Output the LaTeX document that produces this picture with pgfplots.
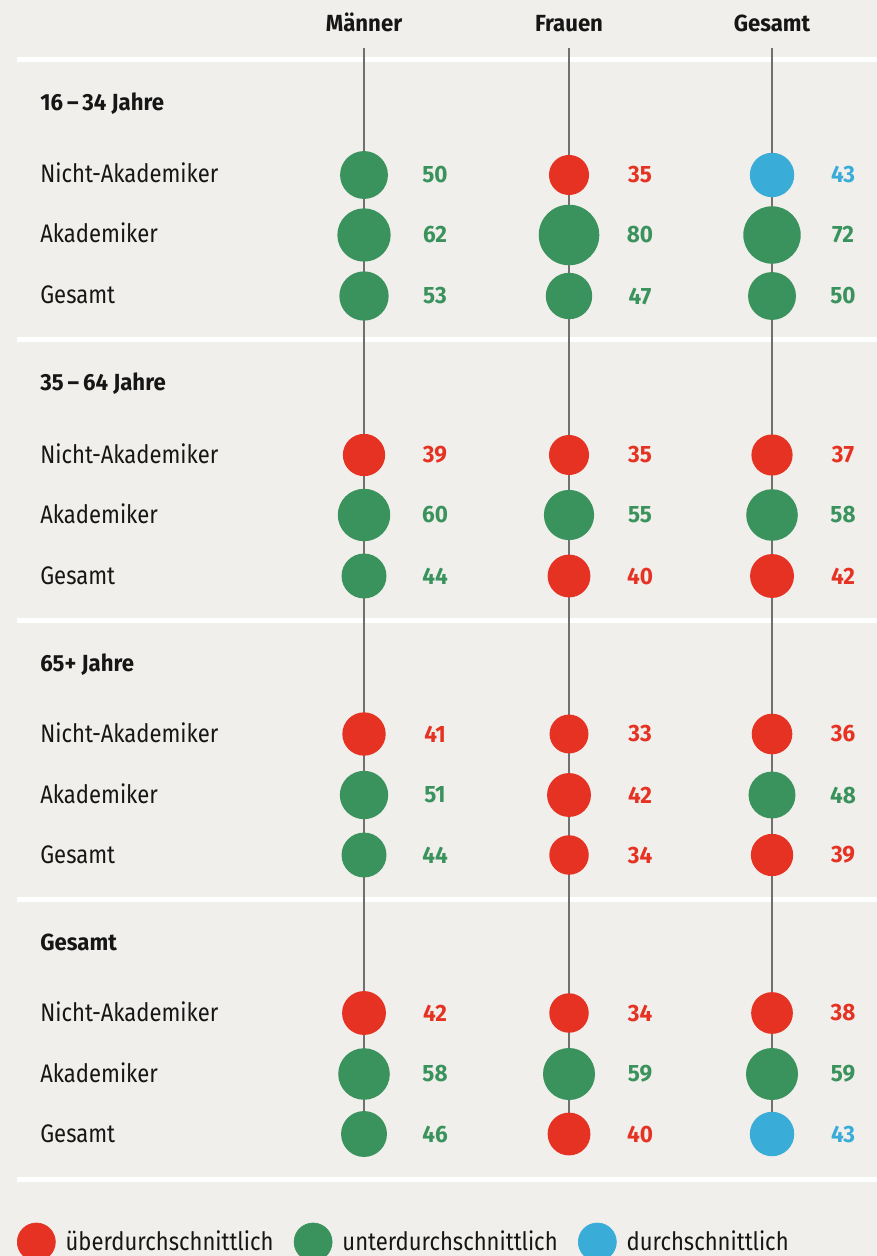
\documentclass[border=0pt]{standalone}
\usepackage{pgfplots}
\pgfplotsset{compat=1.18}
\usepackage{pgfplotstable}
\usepackage{fontspec}
\setmainfont{Fira Sans}
\newfontfamily\lblfam{Fira Sans}[FakeStretch=0.87]
\newfontfamily\hdfam{Fira Sans}[FakeStretch=0.95]
\newcommand\lblfont{\lblfam\fontsize{15.2pt}{18pt}\selectfont}
\newcommand\hdfont{\hdfam\bfseries\fontsize{14pt}{17pt}\selectfont}
\newcommand\valfont{\hdfam\bfseries\fontsize{14.2pt}{17pt}\selectfont}
\newcommand\legfont{\lblfam\fontsize{15.2pt}{18pt}\selectfont}
\definecolor{bg}{RGB}{240,239,235}
\definecolor{cred}{RGB}{230,50,35}
\definecolor{cgreen}{RGB}{58,146,92}
\definecolor{cblue}{RGB}{58,172,216}
\definecolor{vline}{RGB}{112,112,112}
\definecolor{txt}{RGB}{22,22,22}

% x: column centre (px), y: row centre (px), v: value
\pgfplotstableread{
x y v
569 175 35
364 455 39
569 455 35
772 455 37
569 576 40
772 576 42
364 734 41
569 734 33
772 734 36
569 795 42
569 855 34
772 855 39
364 1013 42
569 1013 34
772 1013 38
569 1134 40
}\redtab
\pgfplotstableread{
x y v
364 175 50
364 235 62
569 235 80
772 235 72
364 296 53
569 296 47
772 296 50
364 515 60
569 515 55
772 515 58
364 576 44
364 795 51
772 795 48
364 855 44
364 1074 58
569 1074 59
772 1074 59
364 1134 46
}\greentab
\pgfplotstableread{
x y v
772 175 43
772 1134 43
}\bluetab

\pgfplotsset{
  % bubble area proportional to value: diameter = 4.062*sqrt(v) pt
  bubble/.style={
    only marks, mark=none,
    point meta=explicit,
    visualization depends on={\thisrow{v} \as \val},
    nodes near coords={\relax},
    every node near coord/.append style={circle, fill=#1, draw=none, inner sep=0pt, outer sep=0pt,
      minimum size={4.062*sqrt(\val)}, anchor=center},
    legend image code/.code={\fill[#1] (0pt,0pt) circle (11.4pt);},
  },
  vallabel/.style={
    only marks, mark=none, forget plot,
    point meta=explicit,
    nodes near coords,
    every node near coord/.append style={anchor=center, xshift=42.6pt, font=\valfont, inner sep=0pt, text=#1},
  },
}

\begin{document}
\begin{tikzpicture}
\begin{axis}[
  scale only axis, width=526.2pt, height=753.6pt,
  xmin=0, xmax=877, ymin=0, ymax=1256, y dir=reverse,
  hide axis, clip=false,
  /pgf/number format/assume math mode=true,
  legend columns=3,
  legend style={at={(axis cs:17,1242)}, anchor=west, draw=none, fill=none,
    inner sep=0pt, outer sep=0pt, font=\legfont, text=txt,
    nodes={inner sep=0pt},
    /tikz/every odd column/.append style={column sep=6pt},
    /tikz/every even column/.append style={column sep=12.2pt}},
  legend cell align=left,
]
\fill[bg] (axis cs:0,0) rectangle (axis cs:877,1256);
\foreach \yy in {60,340,620,899,1179}{
  \edef\tmp{\noexpand\draw[white, line width=3pt] (axis cs:17,\yy) -- (axis cs:877,\yy);}\tmp
}
\foreach \xx in {364,569,772}{
  \edef\tmp{\noexpand\draw[vline, line width=1.1pt] (axis cs:\xx,48) -- (axis cs:\xx,1134);}\tmp
}
\addplot[bubble=cred] table[x=x, y=y, meta=v] \redtab;
\addlegendentry{überdurchschnittlich}
\addplot[bubble=cgreen] table[x=x, y=y, meta=v] \greentab;
\addlegendentry{unterdurchschnittlich}
\addplot[bubble=cblue] table[x=x, y=y, meta=v] \bluetab;
\addlegendentry{durchschnittlich}
\addplot[vallabel=cred] table[x=x, y=y, meta=v] \redtab;
\addplot[vallabel=cgreen] table[x=x, y=y, meta=v] \greentab;
\addplot[vallabel=cblue] table[x=x, y=y, meta=v] \bluetab;

% column headers
\node[anchor=base, font=\hdfont, text=txt, inner sep=0pt] at (axis cs:364,32) {Männer};
\node[anchor=base, font=\hdfont, text=txt, inner sep=0pt] at (axis cs:569,32) {Frauen};
\node[anchor=base, font=\hdfont, text=txt, inner sep=0pt] at (axis cs:772,32) {Gesamt};
% group headers
\node[anchor=base west, font=\hdfont, text=txt, inner sep=0pt] at (axis cs:40,111) {16\,–\,34 Jahre};
\node[anchor=base west, font=\hdfont, text=txt, inner sep=0pt] at (axis cs:40,391) {35\,–\,64 Jahre};
\node[anchor=base west, font=\hdfont, text=txt, inner sep=0pt] at (axis cs:40,671) {65+ Jahre};
\node[anchor=base west, font=\hdfont, text=txt, inner sep=0pt] at (axis cs:40,950) {Gesamt};
% row labels
\foreach \yy in {175,455,734,1013}{
  \edef\tmp{\noexpand\node[anchor=base west, font=\noexpand\lblfont, text=txt, inner sep=0pt] at (axis cs:40,\the\numexpr\yy+8\relax) {Nicht-Akademiker};}\tmp
}
\foreach \yy in {235,515,795,1074}{
  \edef\tmp{\noexpand\node[anchor=base west, font=\noexpand\lblfont, text=txt, inner sep=0pt] at (axis cs:40,\the\numexpr\yy+8\relax) {Akademiker};}\tmp
}
\foreach \yy in {296,576,855,1134}{
  \edef\tmp{\noexpand\node[anchor=base west, font=\noexpand\lblfont, text=txt, inner sep=0pt] at (axis cs:40,\the\numexpr\yy+8\relax) {Gesamt};}\tmp
}
\end{axis}
\pgfresetboundingbox
\path[use as bounding box] (0,0) rectangle (526.2pt,753.6pt);
\end{tikzpicture}
\end{document}
